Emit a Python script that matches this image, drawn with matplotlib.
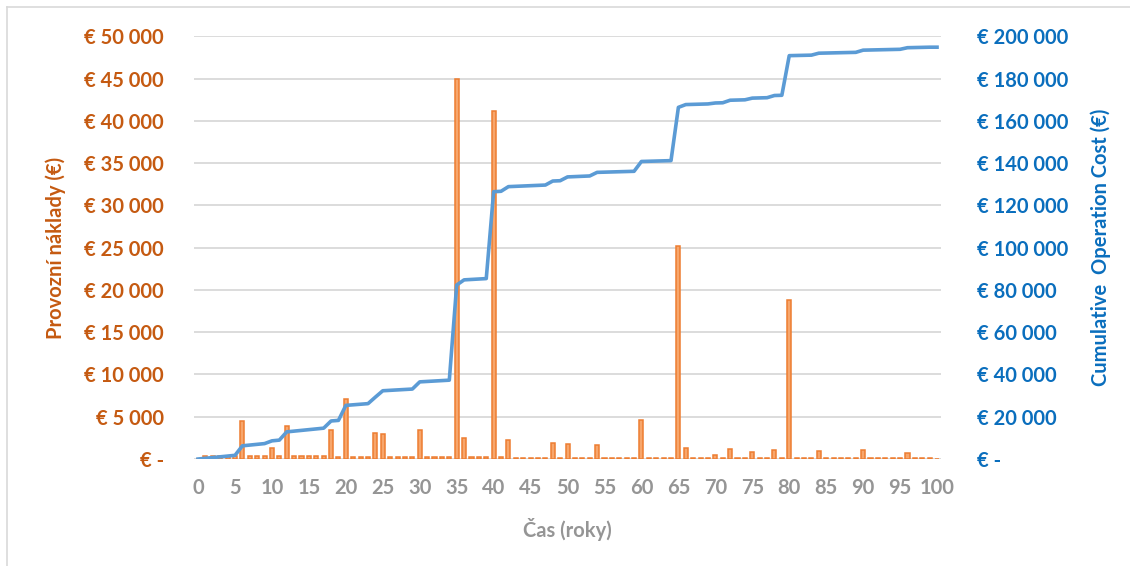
import numpy as np
import matplotlib
matplotlib.use("Agg")
import matplotlib.pyplot as plt
from matplotlib.ticker import FuncFormatter
from matplotlib.lines import Line2D

# ---- data ----
years = list(range(0, 101))
annual_cost = [
    0,                                   # 0
    350, 350, 350, 350, 350,             # 1-5
    4500, 350, 350, 350, 1300,           # 6-10
    350, 3900, 350, 350, 350,            # 11-15
    350, 350, 3400, 275, 7100,           # 16-20
    275, 275, 275, 3100, 3000,           # 21-25
    200, 200, 200, 200, 3400,            # 26-30
    200, 200, 200, 200, 45000,           # 31-35
    2450, 200, 200, 200, 41100,          # 36-40
    200, 2200, 150, 150, 150,            # 41-45
    150, 150, 1900, 150, 1800,           # 46-50
    150, 150, 150, 1700, 100,            # 51-55
    100, 100, 100, 100, 4650,            # 56-60
    100, 100, 100, 100, 25200,           # 61-65
    1320, 100, 100, 100, 450,            # 66-70
    100, 1200, 100, 100, 800,            # 71-75
    100, 100, 1040, 100, 18750,          # 76-80
    80, 80, 80, 920, 80,                 # 81-85
    80, 80, 80, 80, 1040,                # 86-90
    80, 80, 80, 80, 80,                  # 91-95
    760, 80, 80, 80, 0,                  # 96-100
]
cumulative_cost = np.cumsum(annual_cost)

left_ticks = list(range(0, 50001, 5000))
right_ticks = list(range(0, 200001, 20000))
x_ticks = list(range(0, 101, 5))

left_label = "Provozní náklady (€)"
right_label = "Cumulative  Operation Cost (€)"
x_label = "Čas (roky)"

# ---- style ----
FONT = ["Lato", "DejaVu Sans"]
ORANGE_TXT = "#C55A11"
BLUE_TXT = "#0A6EBD"
GRAY_TXT = "#959595"
BAR_FACE = "#F7A66C"
BAR_EDGE = "#ED7D31"
LINE_COL = "#5B9BD5"
GRID_COL = "#D9D9D9"

plt.rcParams["font.family"] = FONT

fig = plt.figure(figsize=(11.30, 5.66), dpi=100)
ax = fig.add_axes([0.172, 0.189, 0.6605, 0.747])
ax2 = ax.twinx()

ax.bar(years, annual_cost, width=0.55, color=BAR_FACE, edgecolor=BAR_EDGE,
       linewidth=1.1, zorder=3)
ax2.plot(years, cumulative_cost, color=LINE_COL, linewidth=2.6,
         solid_joinstyle="round", zorder=4)

ax.set_xlim(-0.5, 100.5)
ax.set_ylim(0, 50000)
ax2.set_ylim(0, 200000)

ax.set_yticks(left_ticks)
ax2.set_yticks(right_ticks)
ax.set_xticks(x_ticks)


def eur(v, pos=None):
    if v == 0:
        return "€ -"
    return "€ " + f"{int(round(v)):,}".replace(",", " ")


ax.yaxis.set_major_formatter(FuncFormatter(eur))
ax2.yaxis.set_major_formatter(FuncFormatter(eur))

ax.grid(axis="y", color=GRID_COL, linewidth=1.3, zorder=0)
ax.set_axisbelow(True)

for a in (ax, ax2):
    for s in a.spines.values():
        s.set_visible(False)
    a.tick_params(length=0)

ax.tick_params(axis="y", labelsize=14.5, labelcolor=ORANGE_TXT, pad=22)
ax2.tick_params(axis="y", labelsize=14.5, labelcolor=BLUE_TXT, pad=26)
ax.tick_params(axis="x", labelsize=14.5, labelcolor=GRAY_TXT, pad=14)
for lab in ax.get_yticklabels() + ax2.get_yticklabels() + ax.get_xticklabels():
    lab.set_fontweight("bold")

ax.set_ylabel(left_label, fontsize=14.5, fontweight="bold", color=ORANGE_TXT,
              labelpad=13)
ax2.set_ylabel(right_label, fontsize=14.5, fontweight="bold", color=BLUE_TXT,
               labelpad=16)
ax.set_xlabel(x_label, fontsize=14.5, fontweight="bold", color=GRAY_TXT,
              labelpad=14)

# chart-area border (top and left edges visible)
fig.add_artist(Line2D([6.5 / 1130, 6.5 / 1130], [0, 1 - 6.5 / 566],
                      transform=fig.transFigure, color="#D9D9D9", linewidth=1.2))
fig.add_artist(Line2D([6.5 / 1130, 1], [1 - 6.5 / 566, 1 - 6.5 / 566],
                      transform=fig.transFigure, color="#D9D9D9", linewidth=1.2))

fig.savefig("out.png", dpi=100)
